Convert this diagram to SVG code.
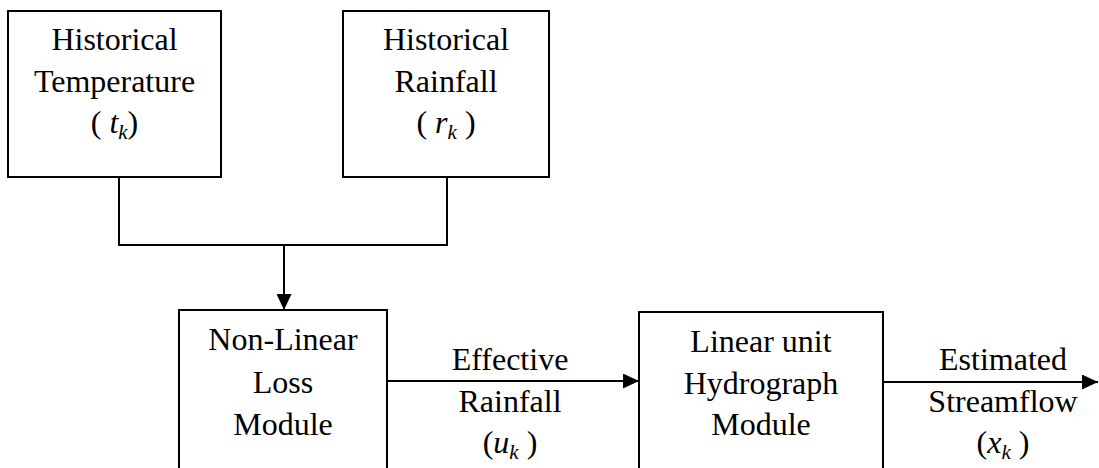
<svg xmlns="http://www.w3.org/2000/svg" width="1099" height="468" viewBox="0 0 1099 468">
<style>
.box{fill:#fff;stroke:#000;stroke-width:2}
.ln{fill:none;stroke:#000;stroke-width:2}
.t{font-family:"Liberation Serif","Times New Roman",serif;font-size:32px;fill:#000;text-anchor:middle}
.v{font-style:italic}
.s{font-style:italic;font-size:21px}
</style>
<defs>
<marker id="ah" viewBox="0 0 16 15" refX="16" refY="7.5" markerWidth="16" markerHeight="15" markerUnits="userSpaceOnUse" orient="auto">
<path d="M0,0 L16,7.5 L0,15 z" fill="#000"/>
</marker>
</defs>
<rect width="1099" height="468" fill="#fff"/>
<g id="connectors">
<path class="ln" d="M119,177 V245 H447 V177"/>
<path class="ln" d="M284,245 V310" marker-end="url(#ah)"/>
<path class="ln" d="M387,381 H639" marker-end="url(#ah)"/>
<path class="ln" d="M883,382 H1098" marker-end="url(#ah)"/>
</g>
<g id="temp">
<rect class="box" x="8" y="11" width="213" height="166"/>
<text class="t" x="114.5" y="50">Historical</text>
<text class="t" x="114.5" y="92">Temperature</text>
<text class="t" x="114.5" y="133">( <tspan class="v">t</tspan><tspan class="s" dy="6">k</tspan><tspan dy="-6">)</tspan></text>
</g>
<g id="rain">
<rect class="box" x="343" y="11" width="206" height="166"/>
<text class="t" x="446" y="50">Historical</text>
<text class="t" x="446" y="92">Rainfall</text>
<text class="t" x="446" y="133">( <tspan class="v">r</tspan><tspan class="s" dy="6">k</tspan><tspan dy="-6"> )</tspan></text>
</g>
<g id="loss">
<rect class="box" x="179" y="310" width="208" height="170"/>
<text class="t" x="283" y="350">Non-Linear</text>
<text class="t" x="283" y="393">Loss</text>
<text class="t" x="283" y="435">Module</text>
</g>
<g id="eff">
<text class="t" x="510" y="370">Effective</text>
<text class="t" x="510" y="412">Rainfall</text>
<text class="t" x="510" y="453">(<tspan class="v">u</tspan><tspan class="s" dy="6">k</tspan><tspan dy="-6"> )</tspan></text>
</g>
<g id="uh">
<rect class="box" x="639" y="312" width="244" height="170"/>
<text class="t" x="761" y="352">Linear unit</text>
<text class="t" x="761" y="394">Hydrograph</text>
<text class="t" x="761" y="435">Module</text>
</g>
<g id="flow">
<text class="t" x="1003" y="370">Estimated</text>
<text class="t" x="1003" y="412">Streamflow</text>
<text class="t" x="1003" y="453">(<tspan class="v">x</tspan><tspan class="s" dy="6">k</tspan><tspan dy="-6"> )</tspan></text>
</g>
</svg>
